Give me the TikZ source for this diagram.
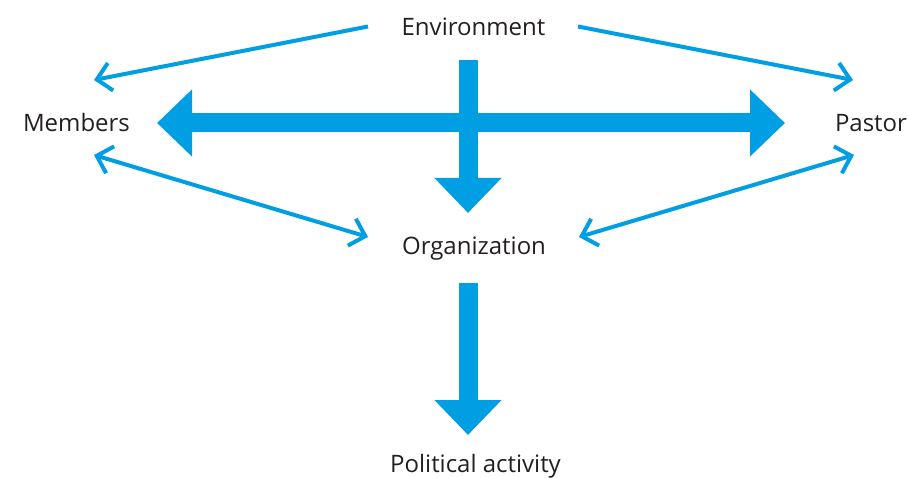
\documentclass[tikz,border=0pt]{standalone}
\usepackage{fontspec}
\setmainfont{Open Sans}
\usetikzlibrary{arrows.meta,calc}
\definecolor{arrowblue}{HTML}{009FE3}
\definecolor{textgray}{HTML}{231F20}
\tikzset{
  label/.style={anchor=base,inner sep=0pt,text=textgray,font=\fontsize{24}{29}\selectfont},
  thinarrow/.style={draw=arrowblue,line width=4pt,line join=miter,
    -{Straight Barb[length=14pt,width=28pt,line width=4pt]}},
  thinboth/.style={draw=arrowblue,line width=4pt,line join=miter,
    {Straight Barb[length=14pt,width=28pt,line width=4pt]}-{Straight Barb[length=14pt,width=28pt,line width=4pt]}},
  thickarrow/.style={draw=arrowblue,line width=19pt,
    -{Triangle[length=35pt,width=65pt]}},
  thickboth/.style={draw=arrowblue,line width=19pt,
    {Triangle[length=35pt,width=65pt]}-{Triangle[length=35pt,width=65pt]}},
}
\begin{document}
\begin{tikzpicture}[x=1pt,y=-1pt]
\useasboundingbox (0,0) rectangle (908,478);
\node[label] (env) at (473.5,36) {Environment};
\node[label] (mem) at (76.5,132) {Members};
\node[label] (pas) at (871,132) {Pastor};
\node[label] (org) at (474,255) {Organization};
\node[label] (pol) at (475.5,472) {Political activity};
% thin arrows
\draw[thinarrow] ($(env.base)+(-105.5,-9.5)$) -- ($(mem.base)+(17.5,-52)$);
\draw[thinarrow] ($(env.base)+(104.5,-9.5)$) -- ($(pas.base)+(-18,-52)$);
\draw[thinboth] ($(mem.base)+(17.5,23)$) -- ($(org.base)+(-106,-18)$);
\draw[thinboth] ($(pas.base)+(-17,23)$) -- ($(org.base)+(105,-18)$);
% thick arrows
\draw[thickboth] ($(mem.base)+(80.5,-9)$) -- ($(pas.base)+(-86,-9)$);
\draw[thickarrow] ($(env.base)+(-5.5,24)$) -- ($(org.base)+(-6,-42)$);
\draw[thickarrow] ($(org.base)+(-6,28)$) -- ($(pol.base)+(-7.5,-37)$);
\end{tikzpicture}
\end{document}
